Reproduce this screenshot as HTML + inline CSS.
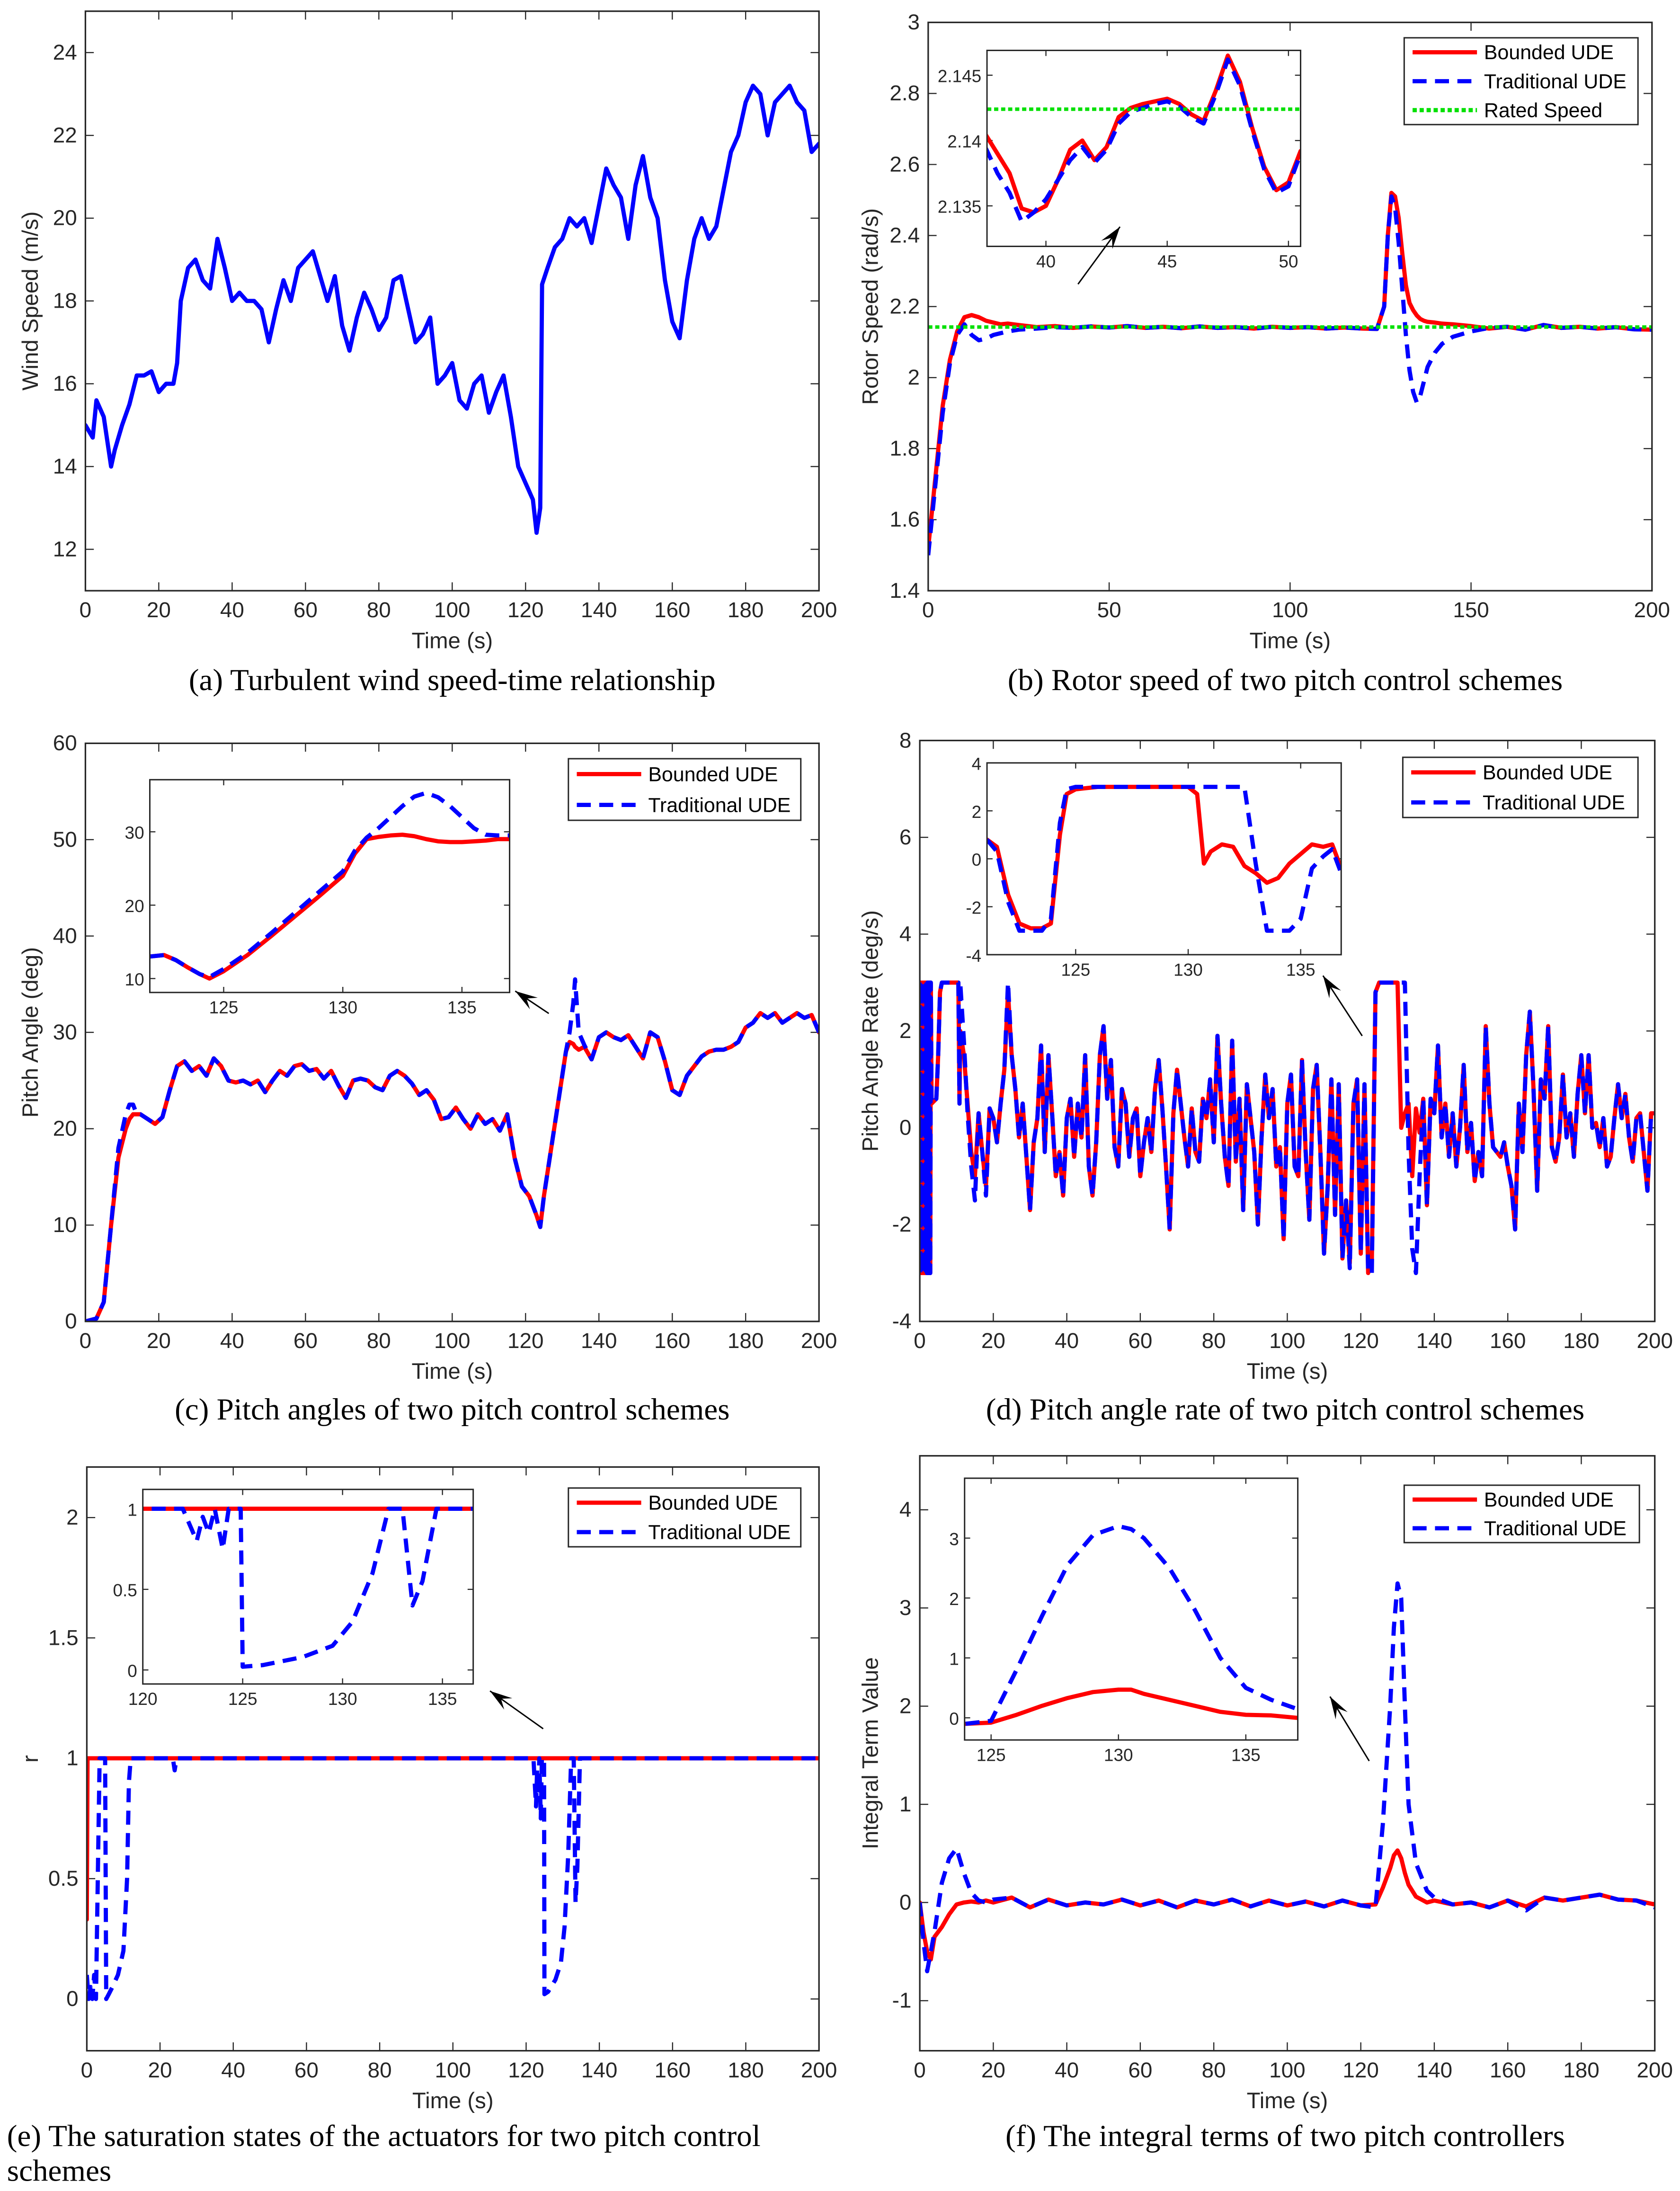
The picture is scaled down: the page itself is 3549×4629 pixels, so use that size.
<!DOCTYPE html>
<html><head><meta charset="utf-8">
<style>
html,body{margin:0;padding:0;background:#fff;}
svg{display:block;}
.tk{font-family:"Liberation Sans Narrow","Liberation Sans",sans-serif;font-size:15.5px;fill:#262626;}
.itk{font-family:"Liberation Sans Narrow","Liberation Sans",sans-serif;font-size:12.5px;fill:#262626;}
.al{font-family:"Liberation Sans",sans-serif;font-size:16px;fill:#262626;}
.lg{font-family:"Liberation Sans Narrow","Liberation Sans",sans-serif;font-size:14.5px;fill:#000;}
.cap{font-family:"Liberation Serif",serif;font-size:22px;fill:#000;}
</style></head>
<body>
<svg id="fig" width="3549" height="4629" viewBox="0 0 1200 1565.2" xmlns="http://www.w3.org/2000/svg">
<rect x="0" y="0" width="1200" height="1566" fill="#fff"/>
</svg>
<script>
// ---------- data ----------
// (a) wind speed
const windT=[0,2,3,5,7,8,10,12,14,16,18,20,22,24,25,26,28,30,32,34,36,38,40,42,44,46,48,50,52,54,56,58,60,62,64,66,68,70,72,74,76,78,80,82,84,86,88,90,92,94,96,98,100,102,104,106,108,110,112,114,116,118,120,122,123,124,124.5,126,128,130,132,134,136,138,140,142,144,146,148,150,152,154,156,158,160,162,164,166,168,170,172,174,176,178,180,182,184,186,188,190,192,194,196,198,200];
const windV=[15.0,14.7,15.6,15.2,14.0,14.4,15.0,15.5,16.2,16.2,16.3,15.8,16.0,16.0,16.5,18.0,18.8,19.0,18.5,18.3,19.5,18.8,18.0,18.2,18.0,18.0,17.8,17.0,17.8,18.5,18.0,18.8,19.0,19.2,18.6,18.0,18.6,17.4,16.8,17.6,18.2,17.8,17.3,17.6,18.5,18.6,17.8,17.0,17.2,17.6,16.0,16.2,16.5,15.6,15.4,16.0,16.2,15.3,15.8,16.2,15.2,14.0,13.6,13.2,12.4,13.0,18.4,18.8,19.3,19.5,20.0,19.8,20.0,19.4,20.3,21.2,20.8,20.5,19.5,20.8,21.5,20.5,20.0,18.5,17.5,17.1,18.5,19.5,20.0,19.5,19.8,20.7,21.6,22.0,22.8,23.2,23.0,22.0,22.8,23.0,23.2,22.8,22.6,21.6,21.8];
// (b) rotor speed
const rotT=[0,2,4,6,8,10,12,14,16,18,20,22,25,30,35,40,45,50,55,60,65,70,75,80,85,90,95,100,105,110,115,120,124,126,127,128,129,130,131,132,133,134,135,136,137,138,140,142,145,150,155,160,165,170,175,180,185,190,195,200];
const rotB=[1.52,1.72,1.92,2.05,2.13,2.17,2.176,2.17,2.16,2.155,2.15,2.152,2.148,2.142,2.145,2.14,2.144,2.141,2.145,2.14,2.143,2.139,2.144,2.14,2.142,2.138,2.143,2.14,2.142,2.138,2.141,2.138,2.137,2.2,2.4,2.52,2.51,2.45,2.35,2.26,2.21,2.19,2.175,2.165,2.16,2.157,2.155,2.152,2.15,2.145,2.138,2.143,2.135,2.148,2.14,2.143,2.138,2.142,2.136,2.135];
const rotTr=[1.50,1.70,1.90,2.04,2.12,2.15,2.12,2.105,2.11,2.12,2.125,2.13,2.135,2.138,2.142,2.14,2.144,2.141,2.145,2.14,2.143,2.139,2.144,2.14,2.142,2.138,2.143,2.14,2.142,2.138,2.141,2.138,2.137,2.2,2.4,2.51,2.48,2.38,2.25,2.12,2.02,1.96,1.93,1.95,1.99,2.03,2.07,2.095,2.115,2.13,2.14,2.143,2.135,2.148,2.14,2.143,2.138,2.142,2.136,2.135];
const ratedSpeed=2.1424;
const rotInT=[37.5,38,38.5,39,39.5,40,40.5,41,41.5,42,42.5,43,43.5,44,44.5,45,45.5,46,46.5,47,47.5,48,48.5,49,49.5,50,50.5];
const rotInB=[2.1405,2.139,2.1375,2.1348,2.1345,2.135,2.137,2.1393,2.14,2.1385,2.1395,2.1418,2.1425,2.1428,2.143,2.1432,2.1428,2.142,2.1415,2.1438,2.1465,2.1445,2.141,2.138,2.1362,2.1368,2.1392];
const rotInTr=[2.1395,2.1375,2.136,2.1338,2.1345,2.1355,2.137,2.1385,2.1395,2.1383,2.1393,2.1413,2.1422,2.1425,2.1428,2.143,2.1426,2.1418,2.1413,2.1435,2.1462,2.1442,2.1408,2.1378,2.136,2.1365,2.139];
// (c) pitch angle
const pitT=[0,3,5,7,9,11,12,13,14,15,17,19,21,23,25,27,29,31,33,35,37,39,41,43,45,47,49,51,53,55,57,59,61,63,65,67,69,71,73,75,77,79,81,83,85,87,89,91,93,95,97,99,101,103,105,107,109,111,113,115,117,119,121,123,124,125,127,129,131,132,133,133.5,134.5,136,138,140,142,144,146,148,150,152,154,156,158,160,162,164,166,168,170,172,174,176,178,180,182,184,186,188,190,192,194,196,198,200];
const pitB=[0,0.3,2,10,17,20,21,21.5,21.5,21.5,21,20.5,21.2,24,26.5,27,26,26.5,25.5,27.3,26.5,25,24.8,25,24.6,25,23.8,25,26,25.5,26.5,26.7,26,26.2,25.2,26,24.5,23.2,25,25.2,25,24.3,24,25.5,26,25.5,24.7,23.5,24,23,21,21.2,22.2,21,20,21.5,20.5,21,19.8,21.5,17,14,13,11,9.8,13,18,23,28,29,28.8,28.5,28.2,28.5,27.2,29.5,30,29.5,29.2,29.7,28.5,27.3,30,29.5,27,24,23.5,25.5,26.5,27.5,28,28.2,28.2,28.5,29,30.5,31,32,31.5,32,31,31.5,32,31.5,31.8,30];
const pitTr=[0,0.3,2,10,18,21.5,22.5,22.5,21.5,21.5,21,20.5,21.2,24,26.5,27,26,26.5,25.5,27.3,26.5,25,24.8,25,24.6,25,23.8,25,26,25.5,26.5,26.7,26,26.2,25.2,26,24.5,23.2,25,25.2,25,24.3,24,25.5,26,25.5,24.7,23.5,24,23,21,21.2,22.2,21,20,21.5,20.5,21,19.8,21.5,17,14,13,11,9.8,13,18,23,28,30,33,35.5,30,28.7,27.2,29.5,30,29.5,29.2,29.7,28.5,27.3,30,29.5,27,24,23.5,25.5,26.5,27.5,28,28.2,28.2,28.5,29,30.5,31,32,31.5,32,31,31.5,32,31.5,31.8,30];
const pitInT=[121.9,122.5,123,123.5,124,124.4,125,126,127,128,129,130,130.5,131,131.5,132,132.5,133,133.5,134,134.5,135,135.5,136,136.5,137];
const pitInB=[13,13.2,12.5,11.5,10.6,10,11,13.2,15.8,18.5,21.2,24,27,29,29.3,29.5,29.6,29.4,29,28.7,28.6,28.6,28.7,28.8,29,29];
const pitInTr=[13,13.2,12.5,11.5,10.6,10.2,11.3,13.5,16.2,19,21.8,24.6,27.4,29.2,30.5,32,33.5,34.8,35.3,34.7,33.5,32,30.5,29.6,29.5,29.5];
// (d) pitch angle rate
const rateEarlyT=[0,0.15,0.3,0.45,0.6,0.75,0.9,1.05,1.2,1.35,1.5,1.65,1.8,1.95,2.1,2.25,2.4,2.55,2.7,2.85,3.0,3.2,4.5,5.0,5.5,6,7,8,9,10,10.5,10.8];
const rateEarly=[3,-3,3,-3,3,-3,3,-3,3,-3,3,-3,3,-3,3,-3,3,-3,3,-3,3,0.5,0.6,1.5,2.8,3,3,3,3,3,3,0.5];
const rateT=[11,12,13,14,15,16,17,18,19,20,21,22,23,24,25,26,27,28,29,30,31,32,33,34,35,36,37,38,39,40,41,42,43,44,45,46,47,48,49,50,51,52,53,54,55,56,57,58,59,60,61,62,63,64,65,66,67,68,69,70,71,72,73,74,75,76,77,78,79,80,81,82,83,84,85,86,87,88,89,90,91,92,93,94,95,96,97,98,99,100,101,102,103,104,105,106,107,108,109,110,111,112,113,114,115,116,117,118,119,120,121,122,123,124,125,126,127,128,129,130,131,132,133,134,135,136,137,138,139,140,141,142,143,144,145,146,147,148,149,150,151,152,153,154,155,156,157,158,159,160,161,162,163,164,165,166,167,168,169,170,171,172,173,174,175,176,177,178,179,180,181,182,183,184,185,186,187,188,189,190,191,192,193,194,195,196,197,198,199,200];
const rateB=[2.0,1.5,0.5,-0.5,-1,0.3,-0.5,-1.2,0.4,0.2,-0.3,0.5,1.2,2.8,1.5,0.8,-0.2,0.5,-0.6,-1.7,-0.3,0.2,1.7,-0.5,1.5,0.3,-1,-0.5,-1.4,0.2,0.6,-0.6,0.5,-0.2,1.5,-0.8,-1.4,-0.3,1.5,2.1,0.6,1.4,-0.4,-0.8,0.8,0.5,-0.6,0.2,0.4,-1.0,-0.3,0.2,-0.5,0.8,1.4,0.4,-0.8,-2.1,0.3,1.2,0.5,-0.2,-0.8,0.4,-0.5,-0.7,0.6,0.2,1.0,-0.3,1.9,0.5,-0.6,-1.2,1.8,-0.7,0.6,-1.7,0.9,0.2,-0.5,-2.0,-0.2,1.1,0.2,0.8,-0.8,-0.4,-2.3,0.5,1.1,-0.8,-1.0,1.4,-0.5,-1.9,0.8,1.3,-0.5,-2.6,-1.2,1.0,-1.8,0.9,-2.7,-1.5,-2.8,0.5,1.0,-2.6,0.9,-3,-2.8,2.8,3,3,3,3,3,3,0,0.3,0.5,-1,0.4,-0.1,0.6,-1.6,0.6,0.3,1.7,-0.2,0.5,-0.6,0.3,-0.8,0,1.3,-0.5,0.1,-1.1,-0.5,-1,2.1,0.5,-0.4,-0.5,-0.6,-0.3,-0.8,-1.2,-2.1,0.5,-0.5,1.5,2.4,0.8,-1.3,1.0,0.6,2.1,-0.4,-0.7,-0.2,1.1,-0.2,0.3,-0.6,0.7,1.5,0.3,1.5,0,0.1,-0.4,0.2,-0.8,-0.6,0.2,0.9,0.2,0.7,-0.2,-0.7,0.2,0.3,-0.5,-1.3,0.3,0.3];
const rateTr=[3.0,1.8,0.3,-0.8,-1.5,0.3,-0.5,-1.4,0.4,0.2,-0.3,0.5,1.2,3.0,1.5,0.8,-0.2,0.5,-0.6,-1.7,-0.3,0.2,1.7,-0.5,1.5,0.3,-1,-0.5,-1.4,0.2,0.6,-0.6,0.5,-0.2,1.5,-0.8,-1.4,-0.3,1.5,2.1,0.6,1.4,-0.4,-0.8,0.8,0.5,-0.6,0.2,0.4,-1.0,-0.3,0.2,-0.5,0.8,1.4,0.4,-0.8,-2.1,0.3,1.2,0.5,-0.2,-0.8,0.4,-0.5,-0.7,0.6,0.2,1.0,-0.3,1.9,0.5,-0.6,-1.2,1.8,-0.7,0.6,-1.7,0.9,0.2,-0.5,-2.0,-0.2,1.1,0.2,0.8,-0.8,-0.4,-2.3,0.5,1.1,-0.8,-1.0,1.4,-0.5,-1.9,0.8,1.3,-0.5,-2.6,-1.2,1.0,-1.8,0.9,-2.7,-1.5,-2.9,0.5,1.0,-2.6,0.9,-3,-3,2.8,3,3,3,3,3,3,3,3,-0.5,-2.5,-3,-1,0.6,-1.6,0.6,0.3,1.7,-0.2,0.5,-0.6,0.3,-0.8,0,1.3,-0.5,0.1,-1.1,-0.5,-1,2.1,0.5,-0.4,-0.5,-0.6,-0.3,-0.8,-1.2,-2.1,0.5,-0.5,1.5,2.4,0.8,-1.3,1.0,0.6,2.1,-0.4,-0.7,-0.2,1.1,-0.2,0.3,-0.6,0.7,1.5,0.3,1.5,0,0.1,-0.4,0.2,-0.8,-0.6,0.2,0.9,0.2,0.7,-0.2,-0.7,0.2,0.3,-0.5,-1.3,0.3,0.3];
const rateInT=[121.06,121.5,122,122.5,123,123.5,123.9,124.3,124.6,125,126,127,128,129,130,130.4,130.7,131,131.5,132,132.5,133,133.5,134,134.5,135,135.5,136,136.4,136.8];
const rateInB=[0.8,0.5,-1.5,-2.7,-2.9,-2.9,-2.7,1.0,2.7,2.9,3,3,3,3,3,2.7,-0.2,0.3,0.6,0.5,-0.3,-0.6,-1.0,-0.8,-0.2,0.2,0.6,0.5,0.6,-0.4];
const rateInTr=[0.8,0.3,-1.8,-3,-3,-3,-2.5,1.5,2.9,3,3,3,3,3,3,3,3,3,3,3,3,-0.2,-3,-3,-3,-2.5,-0.4,0.1,0.4,-0.6];
// (e) saturation r
const satT_B=[0,0.2,200];
const satB=[0.33,1,1];
const satT_Tr=[0,0.5,1,1.5,2,2.5,3,3.5,4,5,5.3,6,7,8.5,10,11,11.5,12,23.5,24,24.5,122,122.7,123,123.3,123.6,124,124.3,124.9,125,126,128,129.5,130.5,131.5,132.3,133,133.5,134,134.7,200];
const satTr=[0.1,0,0.05,0,0.1,0,0.5,1,1,1,0,0.02,0.05,0.1,0.2,0.5,0.9,1,1,0.95,1,1,0.8,0.95,0.85,1,0.75,1,1,0.02,0.03,0.08,0.15,0.3,0.6,1,1,0.4,0.55,1,1];
// (f) integral term
const intT=[0,1,2,3,4,6,8,10,12,14,16,18,20,25,30,35,40,45,50,55,60,65,70,75,80,85,90,95,100,105,110,115,120,124,126,128,129,130,131,132,133,135,138,140,145,150,155,160,165,170,175,180,185,190,195,200];
const intB=[0,-0.3,-0.5,-0.58,-0.35,-0.25,-0.12,-0.02,0.0,0.01,0.0,0.02,0.0,0.05,-0.05,0.03,-0.03,0.0,-0.02,0.03,-0.03,0.02,-0.05,0.02,-0.02,0.03,-0.04,0.02,-0.03,0.01,-0.04,0.02,-0.03,-0.02,0.15,0.35,0.48,0.53,0.45,0.3,0.18,0.06,0.0,0.02,-0.02,0.0,-0.05,0.02,-0.04,0.05,0.02,0.05,0.08,0.03,0.02,-0.02];
const intTr=[0,-0.4,-0.7,-0.5,-0.3,0.2,0.45,0.55,0.3,0.1,0.02,0.0,0.03,0.05,-0.05,0.03,-0.03,0.0,-0.02,0.03,-0.03,0.02,-0.05,0.02,-0.02,0.03,-0.04,0.02,-0.03,0.01,-0.04,0.02,-0.03,-0.05,0.8,2.0,2.8,3.25,3.1,2.0,1.0,0.4,0.12,0.05,-0.02,0.0,-0.05,0.02,-0.08,0.05,0.02,0.05,0.08,0.03,0.02,-0.05];
const intInT=[124,125,126,127,128,129,130,130.5,131,132,133,134,135,136,137];
const intInB=[-0.1,-0.08,0.05,0.2,0.33,0.43,0.47,0.47,0.4,0.3,0.2,0.1,0.05,0.04,0.0];
const intInTr=[-0.1,-0.05,0.8,1.7,2.55,3.05,3.2,3.15,3.0,2.5,1.8,1.0,0.5,0.3,0.15];

// ---------- helpers ----------
const NS='http://www.w3.org/2000/svg';
const fig=document.getElementById('fig');
let clipId=0;
function el(tag,attrs,parent){const e=document.createElementNS(NS,tag);for(const k in attrs)e.setAttribute(k,attrs[k]);(parent||fig).appendChild(e);return e;}
function fmt(v){return String(+v.toFixed(4));}
function axes(o,name){
  const g=el('g',{});
  
  
  const sx=v=>o.x0+(v-o.xlim[0])/(o.xlim[1]-o.xlim[0])*(o.x1-o.x0);
  const sy=v=>o.y1-(v-o.ylim[0])/(o.ylim[1]-o.ylim[0])*(o.y1-o.y0);
  el('rect',{x:o.x0,y:o.y0,width:o.x1-o.x0,height:o.y1-o.y0,fill:'#fff',stroke:'none'},g);
  const tl=o.inset?4:6, cls=o.inset?'itk':'tk';
  o.xticks.forEach(v=>{const x=sx(v);
    el('line',{x1:x,x2:x,y1:o.y1,y2:o.y1-tl,stroke:'#262626','stroke-width':0.8},g);
    el('line',{x1:x,x2:x,y1:o.y0,y2:o.y0+tl,stroke:'#262626','stroke-width':0.8},g);
    const t=el('text',{x:x,y:o.y1+(o.inset?15:19),'text-anchor':'middle',class:cls},g);t.textContent=fmt(v);
    
    
  });
  o.yticks.forEach(v=>{const y=sy(v);
    el('line',{x1:o.x0,x2:o.x0+tl,y1:y,y2:y,stroke:'#262626','stroke-width':0.8},g);
    el('line',{x1:o.x1,x2:o.x1-tl,y1:y,y2:y,stroke:'#262626','stroke-width':0.8},g);
    const t=el('text',{x:o.x0-(o.inset?4:6),y:y+5,'text-anchor':'end',class:cls},g);t.textContent=fmt(v);
    
    
  });
  const cid='c'+(clipId++);
  const cp=el('clipPath',{id:cid},g);el('rect',{x:o.x0,y:o.y0,width:o.x1-o.x0,height:o.y1-o.y0},cp);
  const plot=el('g',{'clip-path':'url(#'+cid+')'},g);
  const frame=()=>el('rect',{x:o.x0,y:o.y0,width:o.x1-o.x0,height:o.y1-o.y0,fill:'none',stroke:'#262626','stroke-width':o.inset?1:1.1},g);
  if(o.xlabel){const t=el('text',{x:(o.x0+o.x1)/2,y:o.y1+41,'text-anchor':'middle',class:'al'},g);t.textContent=o.xlabel;
    }
  if(o.ylabel){const cx=o.ylx,cy=(o.y0+o.y1)/2;const t=el('text',{x:cx,y:cy,'text-anchor':'middle',class:'al',transform:'rotate(-90 '+cx+' '+cy+')'},g);t.textContent=o.ylabel;
    }
  return {g,plot,sx,sy,frame};
}
function series(ax,xs,ys,color,dash,w,name){
  let d='';xs.forEach((x,i)=>{d+=(i?'L':'M')+ax.sx(x).toFixed(2)+' '+ax.sy(ys[i]).toFixed(2);});
  const p=el('path',{d:d,fill:'none',stroke:color,'stroke-width':w,'stroke-linejoin':'round','stroke-linecap':dash?'butt':'round'},ax.plot);
  if(dash)p.setAttribute('stroke-dasharray',dash);
  
  
  return p;
}
function hline(ax,v,color,dash,w,name){
  const p=el('line',{x1:ax.sx(-1e3),x2:ax.sx(1e3),y1:ax.sy(v),y2:ax.sy(v),stroke:color,'stroke-width':w,'stroke-dasharray':dash},ax.plot);
  
  
}
function legend(x0,y0,x1,y1,entries,name){
  const g=el('g',{});
  
  
  el('rect',{x:x0,y:y0,width:x1-x0,height:y1-y0,fill:'#fff',stroke:'#262626','stroke-width':1},g);
  const step=(y1-y0)/entries.length;
  entries.forEach((e,i)=>{const y=y0+step*(i+0.5);
    const l=el('line',{x1:x0+6,x2:x0+52,y1:y,y2:y,stroke:e.c,'stroke-width':3},g);
    if(e.d)l.setAttribute('stroke-dasharray',e.d);
    const t=el('text',{x:x0+57,y:y+5,class:'lg'},g);t.textContent=e.t;
    
    
  });
}
function arrow(x1,y1,x2,y2,name){
  const g=el('g',{});
  
  
  el('line',{x1:x1,y1:y1,x2:x2,y2:y2,stroke:'#000','stroke-width':1},g);
  const a=Math.atan2(y2-y1,x2-x1),L=16,W=5;
  const bx=x2-L*Math.cos(a),by=y2-L*Math.sin(a);
  const px=-Math.sin(a)*W,py=Math.cos(a)*W;
  el('polygon',{points:`${x2},${y2} ${bx+px},${by+py} ${bx+0.4*L*Math.cos(a)},${by+0.4*L*Math.sin(a)} ${bx-px},${by-py}`,fill:'#000'},g);
}
function caption(x,y,txt,anchor,name){const t=el('text',{x:x,y:y,'text-anchor':anchor,class:'cap'});t.textContent=txt;
  }
const R='#ff0000',B='#0000ff',DASH='10 6';
const range=(a,b,s)=>{const r=[];for(let v=a;v<=b+1e-9;v+=s)r.push(+v.toFixed(4));return r;};

// ---------- (a) ----------
let A=axes({x0:61,x1:585,y0:8,y1:422,xlim:[0,200],ylim:[11,25],xticks:range(0,200,20),yticks:range(12,24,2),xlabel:'Time (s)',ylabel:'Wind Speed (m/s)',ylx:27},'wind-speed-chart');
series(A,windT,windV,B,null,3,'wind-speed-line');A.frame();
caption(323,493,'(a)  Turbulent wind speed-time relationship','middle','caption-a');

// ---------- (b) ----------
let Bx=axes({x0:663,x1:1180,y0:16,y1:422,xlim:[0,200],ylim:[1.4,3],xticks:range(0,200,50),yticks:range(1.4,3,0.2),xlabel:'Time (s)',ylabel:'Rotor Speed (rad/s)',ylx:627},'rotor-speed-chart');
series(Bx,rotT,rotB,R,null,3,'bounded-ude-line');
series(Bx,rotT,rotTr,B,DASH,3,'traditional-ude-line');
hline(Bx,ratedSpeed,'#00e000','3 2',2.5,'rated-speed-line');Bx.frame();
let Bi=axes({inset:true,x0:705,x1:929,y0:36,y1:176,xlim:[37.57,50.5],ylim:[2.1319,2.1469],xticks:[40,45,50],yticks:[2.135,2.14,2.145]},'rotor-speed-inset');
series(Bi,rotInT,rotInB,R,null,3,'inset-bounded-line');
series(Bi,rotInT,rotInTr,B,DASH,3,'inset-traditional-line');
hline(Bi,ratedSpeed,'#00e000','3 2',2.5,'inset-rated-line');Bi.frame();
legend(1003,27,1170,89,[{t:'Bounded UDE',c:R},{t:'Traditional UDE',c:B,d:'10 6'},{t:'Rated Speed',c:'#00e000',d:'3 2'}],'legend-b');
arrow(770,203,800,162,'zoom-arrow-b');
caption(918,493,'(b)  Rotor speed of two pitch control schemes','middle','caption-b');

// ---------- (c) ----------
let C=axes({x0:61,x1:585,y0:531,y1:944,xlim:[0,200],ylim:[0,60],xticks:range(0,200,20),yticks:range(0,60,10),xlabel:'Time (s)',ylabel:'Pitch Angle (deg)',ylx:27},'pitch-angle-chart');
series(C,pitT,pitB,R,null,3,'bounded-ude-line');
series(C,pitT,pitTr,B,DASH,3,'traditional-ude-line');C.frame();
let Ci=axes({inset:true,x0:107,x1:364,y0:557,y1:709,xlim:[121.9,137],ylim:[8.1,37.1],xticks:[125,130,135],yticks:[10,20,30]},'pitch-angle-inset');
series(Ci,pitInT,pitInB,R,null,3,'inset-bounded-line');
series(Ci,pitInT,pitInTr,B,DASH,3,'inset-traditional-line');Ci.frame();
legend(406,542,572,586,[{t:'Bounded UDE',c:R},{t:'Traditional UDE',c:B,d:'10 6'}],'legend-c');
arrow(392,724,368,708,'zoom-arrow-c');
caption(323,1014,'(c)  Pitch angles of two pitch control schemes','middle','caption-c');

// ---------- (d) ----------
let D=axes({x0:657,x1:1182,y0:529,y1:944,xlim:[0,200],ylim:[-4,8],xticks:range(0,200,20),yticks:range(-4,8,2),xlabel:'Time (s)',ylabel:'Pitch Angle Rate (deg/s)',ylx:627},'pitch-rate-chart');
series(D,rateEarlyT.concat(rateT),rateEarly.concat(rateB),R,null,3,'bounded-ude-line');
series(D,rateEarlyT.concat(rateT),rateEarly.concat(rateTr),B,DASH,3,'traditional-ude-line');D.frame();
let Di=axes({inset:true,x0:705,x1:958,y0:545,y1:682,xlim:[121.06,136.8],ylim:[-4,4],xticks:[125,130,135],yticks:[-4,-2,0,2,4]},'pitch-rate-inset');
series(Di,rateInT,rateInB,R,null,3,'inset-bounded-line');
series(Di,rateInT,rateInTr,B,DASH,3,'inset-traditional-line');Di.frame();
legend(1002,541,1170,584,[{t:'Bounded UDE',c:R},{t:'Traditional UDE',c:B,d:'10 6'}],'legend-d');
arrow(973,740,945,697,'zoom-arrow-d');
caption(918,1014,'(d)  Pitch angle rate of two pitch control schemes','middle','caption-d');

// ---------- (e) ----------
let E=axes({x0:62,x1:585,y0:1048,y1:1465,xlim:[0,200],ylim:[-0.215,2.21],xticks:range(0,200,20),yticks:[0,0.5,1,1.5,2],xlabel:'Time (s)',ylabel:'r',ylx:27},'saturation-chart');
series(E,satT_B,satB,R,null,3,'bounded-ude-line');
series(E,satT_Tr,satTr,B,DASH,3,'traditional-ude-line');E.frame();
let Ei=axes({inset:true,x0:102,x1:338,y0:1064,y1:1203,xlim:[120,136.54],ylim:[-0.087,1.12],xticks:[120,125,130,135],yticks:[0,0.5,1]},'saturation-inset');
series(Ei,satT_B,satB,R,null,3,'inset-bounded-line');
series(Ei,satT_Tr,satTr,B,DASH,3,'inset-traditional-line');Ei.frame();
legend(406,1063,572,1105,[{t:'Bounded UDE',c:R},{t:'Traditional UDE',c:B,d:'10 6'}],'legend-e');
arrow(388,1235,350,1208,'zoom-arrow-e');
caption(5,1533,'(e)  The saturation states of the actuators for two pitch control','start','caption-e');
caption(5,1558,'schemes','start','caption-e-cont');

// ---------- (f) ----------
let F=axes({x0:657,x1:1182,y0:1040,y1:1465,xlim:[0,200],ylim:[-1.51,4.55],xticks:range(0,200,20),yticks:[-1,0,1,2,3,4],xlabel:'Time (s)',ylabel:'Integral Term Value',ylx:627},'integral-term-chart');
series(F,intT,intB,R,null,3,'bounded-ude-line');
series(F,intT,intTr,B,DASH,3,'traditional-ude-line');F.frame();
let Fi=axes({inset:true,x0:689,x1:927,y0:1056,y1:1243,xlim:[123.96,137.04],ylim:[-0.37,4.0],xticks:[125,130,135],yticks:[0,1,2,3]},'integral-term-inset');
series(Fi,intInT,intInB,R,null,3,'inset-bounded-line');
series(Fi,intInT,intInTr,B,DASH,3,'inset-traditional-line');Fi.frame();
legend(1003,1061,1171,1102,[{t:'Bounded UDE',c:R},{t:'Traditional UDE',c:B,d:'10 6'}],'legend-f');
arrow(978,1258,950,1212,'zoom-arrow-f');
caption(918,1533,'(f)  The integral terms of two pitch controllers','middle','caption-f');
</script>
</body></html>
